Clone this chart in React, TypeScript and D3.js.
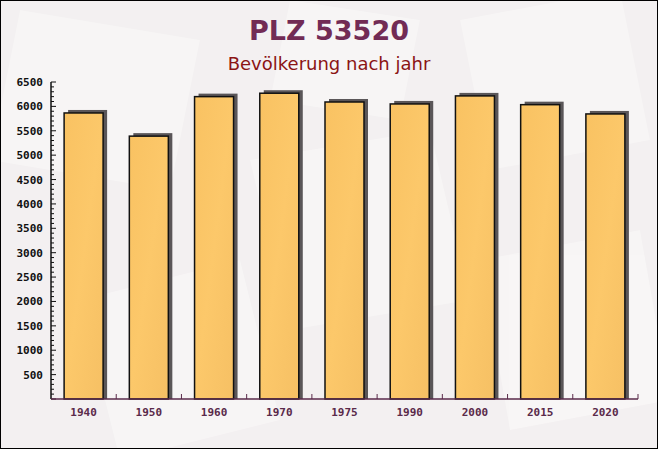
import React from "react";
import * as d3 from "d3";

const categories = ["1940", "1950", "1960", "1970", "1975", "1990", "2000", "2015", "2020"];
const values = [5865, 5390, 6200, 6270, 6090, 6050, 6215, 6035, 5845];
const yTicks = [500, 1000, 1500, 2000, 2500, 3000, 3500, 4000, 4500, 5000, 5500, 6000, 6500];
const title = "PLZ 53520";
const subtitle = "Bevölkerung nach jahr";

const W = 658, H = 449;
const left = 51, right = 638, top = 82, bottom = 399;

export default function App() {
  const x = d3.scaleBand<string>().domain(categories).range([left, right]).paddingInner(0.4).paddingOuter(0.2);
  const band = d3.scaleBand<string>().domain(categories).range([left, right]);
  const y = d3.scaleLinear().domain([0, 6500]).range([bottom, top]);
  const minor = d3.range(100, 6500, 100).filter((v) => v % 500 !== 0);
  const bw = 39;
  const mono = "'DejaVu Sans Mono', monospace";
  return (
    <svg width={W} height={H} style={{ position: "absolute", left: 0, top: 0 }}>
      <defs>
        <linearGradient id="barg" x1="0" y1="0" x2="1" y2="1">
          <stop offset="0" stopColor="#f9c262" />
          <stop offset="0.5" stopColor="#fcc86a" />
          <stop offset="1" stopColor="#f6c064" />
        </linearGradient>
      </defs>
      <rect x={0} y={0} width={W} height={H} fill="#f3f0f1" />
      <g fill="#f8f6f6" opacity={0.9}>
        <polygon points="20,10 200,40 170,190 -10,160" />
        <polygon points="250,160 430,130 470,300 290,330" />
        <polygon points="460,20 620,-10 650,140 490,170" />
        <polygon points="80,300 240,260 280,420 120,460" />
        <polygon points="480,260 640,230 670,400 510,430" />
        <polygon points="290,0 420,20 400,120 270,100" />
      </g>
      <rect x={0.5} y={0.5} width={W - 1} height={H - 1} fill="none" stroke="#000" strokeWidth={1} />
      <text x={329} y={40} textAnchor="middle" fontFamily="'DejaVu Sans', sans-serif" fontWeight="bold" fontSize={27} fill="#722b55">{title}</text>
      <text x={329} y={70} textAnchor="middle" fontFamily="'DejaVu Sans', sans-serif" fontSize={18} fill="#8b1414">{subtitle}</text>
      {categories.map((c, i) => {
        const cx = (band(c) as number) + band.bandwidth() / 2;
        const x0 = cx - bw / 2;
        const yt = y(values[i]);
        return (
          <g key={c}>
            <rect x={x0 + 4} y={yt - 3} width={bw} height={bottom - yt + 3} fill="#5a5658" />
            <rect x={x0} y={yt} width={bw} height={bottom - yt} fill="url(#barg)" stroke="#111" strokeWidth={1.5} />
          </g>
        );
      })}
      {/* y axis */}
      <line x1={left} y1={top} x2={left} y2={bottom} stroke="#111" strokeWidth={1.5} />
      {minor.map((v) => (
        <line key={v} x1={left} x2={left + 3} y1={y(v)} y2={y(v)} stroke="#111" strokeWidth={1} />
      ))}
      {[0, ...yTicks].map((v) => (
        <line key={"M" + v} x1={left} x2={left + 5} y1={y(v)} y2={y(v)} stroke="#111" strokeWidth={1} />
      ))}
      {yTicks.map((v) => (
        <text key={"t" + v} x={43} y={y(v) + 4} textAnchor="end" fontFamily={mono} fontWeight="bold" fontSize={11} fill="#111">{v}</text>
      ))}
      {/* x axis */}
      <line x1={left} y1={bottom} x2={right} y2={bottom} stroke="#5a2a4a" strokeWidth={1.5} />
      {categories.map((c) => {
        const b = band(c) as number;
        return (
          <g key={"x" + c}>
            <line x1={b + band.bandwidth()} x2={b + band.bandwidth()} y1={bottom} y2={bottom - 5} stroke="#5a2a4a" strokeWidth={1} />
            <text x={b + band.bandwidth() / 2} y={416} textAnchor="middle" fontFamily={mono} fontWeight="bold" fontSize={11} fill="#5a2a4a">{c}</text>
          </g>
        );
      })}
    </svg>
  );
}
